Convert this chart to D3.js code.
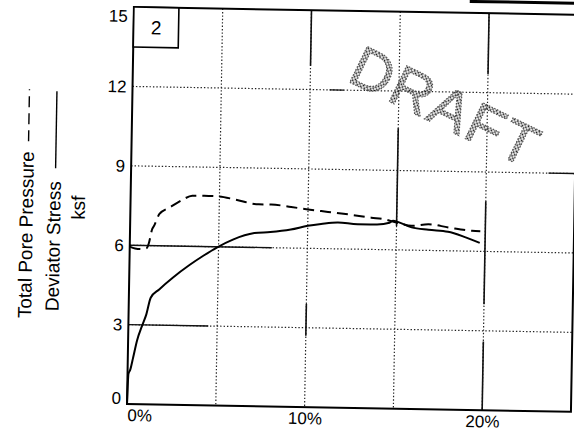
<!DOCTYPE html>
<html>
<head>
<meta charset="utf-8">
<script src="https://cdn.jsdelivr.net/npm/d3@7"></script>
<style>
  html, body { margin: 0; padding: 0; background: #fff; }
  svg { display: block; font-family: Arial, "Liberation Sans", sans-serif; }
</style>
</head>
<body>
<svg id="chart" width="574" height="435"></svg>
<script>
// Axial strain (%) vs. deviator stress (ksf)
const deviatorStrain = [0, 0.05, 0.15, 0.3, 0.5, 0.77, 1.0, 1.23, 1.7, 2.45, 3.4, 4.15, 4.9, 5.8, 7.0, 7.9, 9.05, 10.0, 10.75, 11.7, 12.8, 13.9, 14.6, 14.8, 15.1, 15.85, 16.8, 17.9, 18.9, 19.7];
const deviatorStress = [0, 1.13, 1.3, 1.76, 2.4, 2.96, 3.4, 4.03, 4.35, 4.8, 5.3, 5.65, 5.97, 6.28, 6.54, 6.59, 6.7, 6.85, 6.93, 7.0, 6.94, 6.95, 7.02, 7.1, 7.05, 6.86, 6.78, 6.72, 6.52, 6.32];

// Axial strain (%) vs. total pore pressure (ksf)
const poreStrain = [0, 0.3, 0.67, 0.95, 1.06, 1.25, 1.35, 1.64, 2.2, 2.89, 3.47, 4.14, 5.0, 5.87, 7.22, 7.92, 9.05, 10.0, 11.13, 12.26, 13.57, 14.3, 15.0, 15.85, 16.8, 17.93, 19.25, 19.72];
const porePressure = [5.95, 5.88, 5.86, 5.9, 6.06, 6.63, 6.75, 7.2, 7.45, 7.74, 7.91, 7.92, 7.9, 7.8, 7.63, 7.63, 7.55, 7.47, 7.39, 7.31, 7.2, 7.15, 7.03, 6.92, 6.99, 6.88, 6.77, 6.76];

const yTicks = [0, 3, 6, 9, 12, 15];
const xTicks = [0, 10, 20];
const xGrid = [5, 10, 15, 20];
const yGrid = [3, 6, 9, 12];
const xDomain = [0, 25];
const yDomain = [0, 15];

const panelLabel = "2";
const titlePore = "Total Pore Pressure";
const titleDeviator = "Deviator Stress";
const titleUnit = "ksf";
const watermark = "DRAFT";

// grid stretches that print solid: [value, from, to]
const hSolid = [[6, 0, 8], [3, 0, 4.5], [9, 23.5, 25], [12, 11.1, 11.9]];
const vSolid = [[10, 12.9, 15], [10, 2.7, 3.9], [15, 6.9, 10.6], [20, 12.7, 15], [20, 4, 7.9], [20, 0, 2.6]];

const svg = d3.select("#chart");
const W = 444, H = 397;

// halftone fill for the stamp
const defs = svg.append("defs");
const pat = defs.append("pattern")
  .attr("id", "halftone")
  .attr("width", 2.8).attr("height", 2.8)
  .attr("patternUnits", "userSpaceOnUse")
  .attr("patternTransform", "rotate(45)");
pat.append("circle").attr("cx", 1.4).attr("cy", 1.4).attr("r", 1.05).attr("fill", "#111");

// whole sheet sits slightly turned
const root = svg.append("g")
  .attr("transform", `translate(127,404) rotate(1) translate(0,${-H})`);

const x = d3.scaleLinear().domain(xDomain).range([0, W]);
const y = d3.scaleLinear().domain(yDomain).range([H, 0]);

// dotted grid
const grid = root.append("g").attr("stroke", "#222").attr("stroke-width", 1.2).attr("fill", "none");
grid.selectAll("line.v").data(xGrid).join("line")
  .attr("class", "v")
  .attr("x1", d => x(d)).attr("x2", d => x(d))
  .attr("y1", 0).attr("y2", H)
  .attr("stroke-dasharray", "1.4,2");
grid.selectAll("line.h").data(yGrid).join("line")
  .attr("class", "h")
  .attr("x1", 0).attr("x2", W)
  .attr("y1", d => y(d)).attr("y2", d => y(d))
  .attr("stroke-dasharray", "1.4,2");
grid.selectAll("line.hs").data(hSolid).join("line")
  .attr("class", "hs")
  .attr("x1", d => x(d[1])).attr("x2", d => x(d[2]))
  .attr("y1", d => y(d[0])).attr("y2", d => y(d[0]))
  .attr("stroke", "#111").attr("stroke-width", 1.4);
grid.selectAll("line.vs").data(vSolid).join("line")
  .attr("class", "vs")
  .attr("x1", d => x(d[0])).attr("x2", d => x(d[0]))
  .attr("y1", d => y(d[1])).attr("y2", d => y(d[2]))
  .attr("stroke", "#111").attr("stroke-width", 1.6);

// frame
root.append("rect")
  .attr("x", 0).attr("y", 0).attr("width", W).attr("height", H)
  .attr("fill", "none").attr("stroke", "#000").attr("stroke-width", 2);

// heavy rule above the frame on the right
root.append("line")
  .attr("x1", x(18.9)).attr("x2", x(26)).attr("y1", -11.5).attr("y2", -11.5)
  .attr("stroke", "#000").attr("stroke-width", 3);

// panel number box
const box = root.append("g");
box.append("rect").attr("x", 0).attr("y", 0).attr("width", 45).attr("height", 40)
  .attr("fill", "#fff").attr("stroke", "#000").attr("stroke-width", 1.6);
box.append("text").attr("x", 22.5).attr("y", 20).attr("dy", "0.36em")
  .attr("text-anchor", "middle").attr("font-size", 19).attr("fill", "#000")
  .text(panelLabel);

// curves
const line = d3.line().x(d => x(d[0])).y(d => y(d[1])).curve(d3.curveMonotoneX);
root.append("path")
  .datum(d3.zip(deviatorStrain, deviatorStress))
  .attr("d", line)
  .attr("fill", "none").attr("stroke", "#000").attr("stroke-width", 2);
root.append("path")
  .datum(d3.zip(poreStrain, porePressure))
  .attr("d", line)
  .attr("fill", "none").attr("stroke", "#000").attr("stroke-width", 2)
  .attr("stroke-dasharray", "11,6");

// y axis labels
const yAxis = root.append("g")
  .call(d3.axisLeft(y).tickValues(yTicks).tickSize(0).tickPadding(6).tickFormat(d3.format("d")));
yAxis.select(".domain").remove();
yAxis.selectAll("text")
  .attr("font-size", 17).attr("font-family", "Arial, 'Liberation Sans', sans-serif").attr("fill", "#000")
  .attr("transform", d => d === yDomain[1] ? "translate(0,9)" : d === yDomain[0] ? "translate(0,-6)" : null);

// x axis labels
const xAxis = root.append("g").attr("transform", `translate(0,${H})`)
  .call(d3.axisBottom(x).tickValues(xTicks).tickSize(0).tickPadding(5).tickFormat(d => d + "%"));
xAxis.select(".domain").remove();
xAxis.selectAll("text")
  .attr("font-size", 17).attr("font-family", "Arial, 'Liberation Sans', sans-serif").attr("fill", "#000")
  .attr("text-anchor", d => d === xDomain[0] ? "start" : "middle");

// y axis title with line-style keys
function titleLine(baseX, cy, label, keyLen, gap, dash) {
  const g = root.append("g").attr("transform", `translate(${baseX},${cy}) rotate(-90)`);
  const t = g.append("text").attr("font-size", 19).attr("fill", "#000").text(label);
  const w = t.node().getComputedTextLength();
  const L = w + (keyLen ? gap + keyLen : 0);
  t.attr("x", -L / 2);
  if (keyLen) {
    g.append("line")
      .attr("x1", -L / 2 + w + gap).attr("x2", L / 2)
      .attr("y1", -5.5).attr("y2", -5.5)
      .attr("stroke", "#000").attr("stroke-width", 1.4)
      .attr("stroke-dasharray", dash || null);
  }
}
titleLine(-97.5, H / 2, titlePore, 52, 10, "11,6");
titleLine(-70, H / 2 - 3, titleDeviator, 77, 13, null);
titleLine(-45.5, H / 2 + 3, titleUnit, 0, 0, null);

// stamp
svg.append("text")
  .attr("transform", "translate(446,106) rotate(26)")
  .attr("text-anchor", "middle").attr("dy", "0.36em")
  .attr("font-size", 58).attr("letter-spacing", 2)
  .attr("fill", "url(#halftone)").attr("stroke", "#555").attr("stroke-width", 1.2)
  .attr("stroke-dasharray", "1.5,1.5")
  .text(watermark);
</script>
</body>
</html>
